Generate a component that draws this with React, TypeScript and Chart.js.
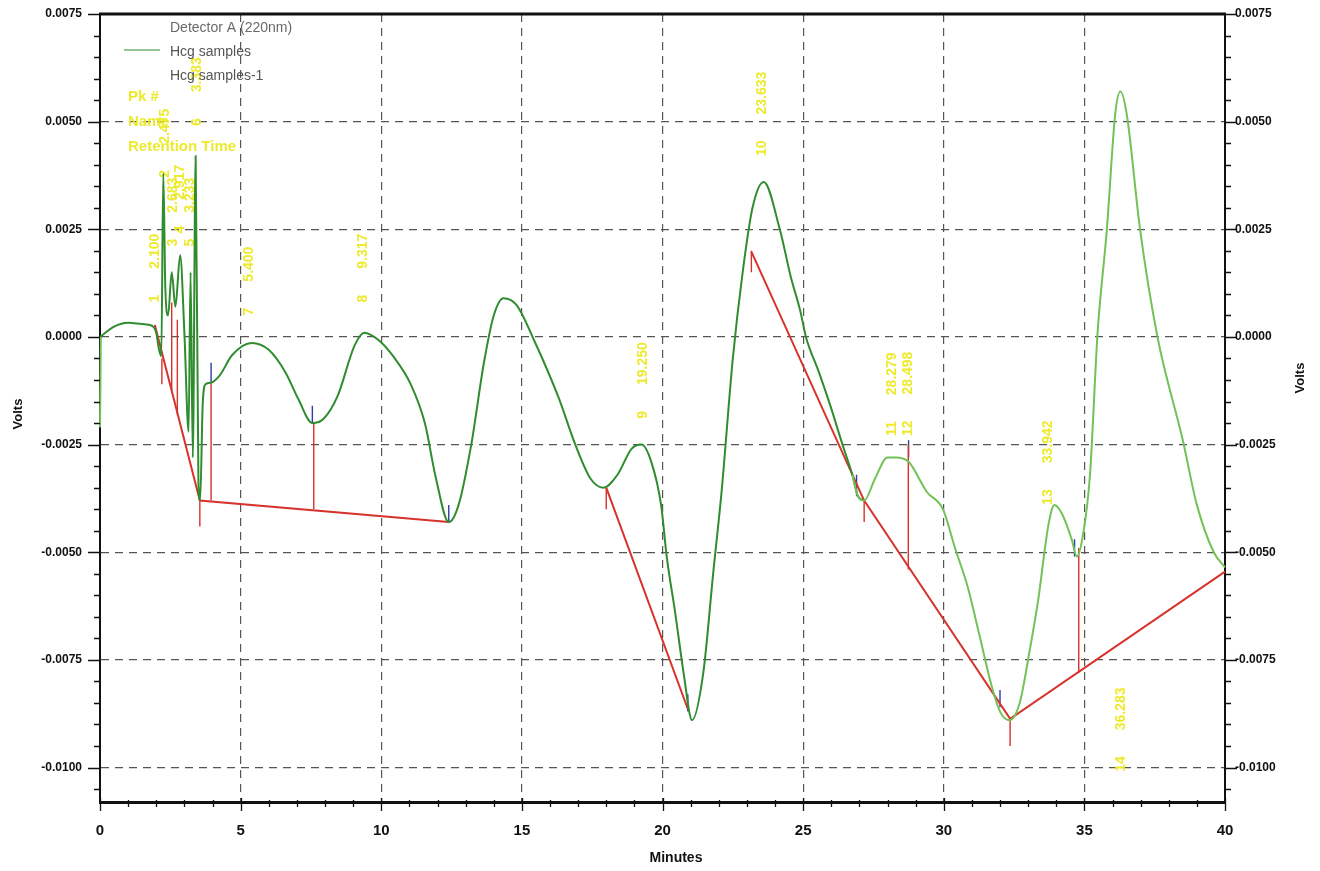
import React, { useEffect, useRef } from 'react';
import { Chart, registerables } from 'chart.js';

Chart.register(...registerables);

// ---------- axes ----------
const xTickValues = [0, 5, 10, 15, 20, 25, 30, 35, 40];
const xTickLabels = ['0', '5', '10', '15', '20', '25', '30', '35', '40'];
const yTickValues = [0.0075, 0.005, 0.0025, 0, -0.0025, -0.005, -0.0075, -0.01];
const yTickLabels = ['0.0075', '0.0050', '0.0025', '0.0000', '-0.0025', '-0.0050', '-0.0075', '-0.0100'];

// ---------- trace "Hcg samples" (dark green), minutes / volts ----------
const sampleTimes = [
  0.0, 0.5, 1.0, 1.5, 1.85, 2.0, 2.1, 2.18, 2.25, 2.32, 2.42, 2.55, 2.68, 2.85, 3.0, 3.15, 3.22, 3.3, 3.4, 3.5,
  3.56, 3.65, 3.75, 3.95, 4.25, 4.7, 5.4, 6.0, 6.6, 7.05, 7.55, 7.95, 8.45, 9.05, 9.4, 9.9, 10.45, 11.05, 11.55,
  11.95, 12.4, 12.75, 13.2, 13.65, 14.0, 14.35, 14.8, 15.45, 16.3, 16.9, 17.45, 17.9, 18.4, 18.9, 19.25, 19.6,
  19.95, 20.15, 20.45, 20.75, 21.05, 21.45, 21.8, 22.1, 22.5, 22.85, 23.2, 23.6, 24.17, 24.56, 24.9, 25.1, 25.55,
  25.97, 26.4, 26.75, 26.95, 27.17,
];
const sampleVolts = [
  0.0, 0.00024, 0.00033, 0.0003, 0.00026, 0.0001, -0.0003, -0.00045, 0.0038, 0.0012, 0.0005, 0.0015, 0.0007,
  0.0019, 0.0001, -0.0022, 0.0015, -0.0028, 0.0042, -0.0034, -0.0038, -0.0016, -0.0011, -0.00106, -0.0009,
  -0.00042, -0.00014, -0.0003, -0.00083, -0.00144, -0.002, -0.0019, -0.00137, -0.0002, 0.0001, -0.00007,
  -0.00047, -0.0011, -0.002, -0.0033, -0.0043, -0.0039, -0.0025, -0.0006, 0.0005, 0.0009, 0.00075, -0.0001,
  -0.0014, -0.0025, -0.0033, -0.0035, -0.0032, -0.0026, -0.0025, -0.0029, -0.0039, -0.0051, -0.0064, -0.0078,
  -0.0089, -0.0078, -0.0055, -0.0036, -0.0005, 0.0015, 0.003, 0.0036, 0.0025, 0.0014, 0.0006, 0.0, -0.0008,
  -0.0016, -0.0025, -0.0032, -0.0037, -0.0038,
];

// ---------- trace "Hcg samples-1" (light green) ----------
const sample1Times = [
  0.0, 0.03, 0.06, 26.75, 26.95, 27.17, 27.55, 28.0, 28.3, 28.75, 29.4, 29.97, 30.4, 30.85, 31.26, 31.7, 32.0,
  32.33, 32.7, 33.05, 33.36, 33.6, 33.74, 33.93, 34.2, 34.55, 34.73, 34.95, 35.2, 35.47, 35.8, 36.1, 36.28, 36.5,
  36.98, 37.6, 38.5, 39.0, 39.6, 40.0,
];
const sample1Volts = [
  -0.0021, 0.0, null, -0.0032, -0.0037, -0.0038, -0.0033, -0.0028, -0.0028, -0.0029, -0.0036, -0.004, -0.0049,
  -0.0058, -0.0069, -0.0081, -0.0087, -0.0089, -0.0085, -0.0073, -0.0061, -0.0049, -0.0043, -0.0039, -0.0041,
  -0.0047, -0.0051, -0.0046, -0.0032, 0.0001, 0.0025, 0.0052, 0.0057, 0.0052, 0.0025, 0.0, -0.0024, -0.0039,
  -0.005, -0.00535,
];

// ---------- integration baselines (red) ----------
const baselineTimes = [1.95, 3.55, 12.4, 13.0, 18.0, 20.9, 21.0, 23.16, 27.17, 32.36, 40.0];
const baselineVolts = [0.00028, -0.0038, -0.0043, null, -0.0035, -0.00864, null, 0.00198, -0.0038, -0.00887, -0.00545];

// red drop lines / event ticks
const dropTimes = [2.2, 2.55, 2.75, 3.55, 3.95, 7.6, 18.0, 23.16, 27.17, 28.74, 32.36, 34.8];
const dropTops = [-0.0005, 0.0008, 0.0004, -0.0038, -0.00106, -0.002, -0.0035, 0.002, -0.0038, -0.0025, -0.0089, -0.0049];
const dropBottoms = [-0.0011, -0.0013, -0.0018, -0.0044, -0.0038, -0.004, -0.004, 0.0015, -0.0043, -0.0054, -0.0095, -0.0078];

// blue peak markers
const markTimes = [3.95, 7.55, 12.4, 20.9, 26.9, 28.75, 32.0, 34.65];
const markTops = [-0.0006, -0.0016, -0.0039, -0.0083, -0.0032, -0.0024, -0.0082, -0.0047];
const markBottoms = [-0.00106, -0.002, -0.0043, -0.0087, -0.0037, -0.0028, -0.0086, -0.0051];

// ---------- yellow peak annotations ----------
const peakNumbers = ['1', '2', '3', '4', '5', '6', '7', '8', '9', '10', '11', '12', '13', '14'];
const peakRetention = ['2.100', '2.475', '2.683', '2.917', '3.233', '3.383', '5.400', '9.317', '19.250', '23.633', '28.279', '28.498', '33.942', '36.283'];
const peakLabelTimes = [1.95, 2.3, 2.6, 2.85, 3.2, 3.45, 5.3, 9.35, 19.3, 23.55, 28.15, 28.75, 33.7, 36.3];
const peakLabelVolts = [0.0008, 0.0037, 0.0021, 0.0024, 0.0021, 0.0049, 0.0005, 0.0008, -0.0019, 0.0042, -0.0023, -0.0023, -0.0039, -0.0101];

const legendTitle = 'Detector A (220nm)';
const legendSeries = ['Hcg samples', 'Hcg samples-1'];
const annotationKeys = ['Pk #', 'Name', 'Retention Time'];

const GREEN_DARK = '#2f8c2f';
const GREEN_LIGHT = '#72c257';
const RED = '#d8322c';
const BLUE = '#2a3da8';
const YELLOW = 'rgba(236,232,28,0.92)';
const GRID = '#555555';
const AXIS = '#111111';
const FONT = '"Liberation Sans", Arial, sans-serif';
const NARROW = '"Liberation Sans Narrow", "Liberation Sans", Arial, sans-serif';

function toPoints(ts: number[], vs: (number | null)[]) {
  return ts.map((t, i) => ({ x: t, y: vs[i] }));
}

function verticals(ts: number[], tops: number[], bottoms: number[]) {
  const out: { x: number; y: number | null }[] = [];
  ts.forEach((t, i) => {
    out.push({ x: t, y: tops[i] });
    out.push({ x: t, y: bottoms[i] });
    out.push({ x: t, y: null });
  });
  return out;
}

const decorPlugin = {
  id: 'decor',
  beforeDatasetsDraw(chart: any) {
    const { ctx, scales } = chart;
    const xs = scales.x;
    const ys = scales.y;
    ctx.save();
    ctx.fillStyle = YELLOW;
    ctx.font = `bold 14px ${FONT}`;
    ctx.textBaseline = 'middle';
    ctx.textAlign = 'left';
    peakNumbers.forEach((pk, i) => {
      const px = xs.getPixelForValue(peakLabelTimes[i]);
      const py = ys.getPixelForValue(peakLabelVolts[i]);
      ctx.save();
      ctx.translate(px, py);
      ctx.rotate(-Math.PI / 2);
      ctx.fillText(pk, 0, 0);
      const w = ctx.measureText(pk).width;
      ctx.fillText(peakRetention[i], w + 26, 0);
      ctx.restore();
    });
    // annotation key
    ctx.font = `bold 15px ${FONT}`;
    ctx.textBaseline = 'middle';
    annotationKeys.forEach((k, i) => {
      ctx.fillText(k, 128, 97 + i * 25);
    });
    ctx.restore();
  },
  afterDraw(chart: any) {
    const { ctx, chartArea: ca, scales } = chart;
    const xs = scales.x;
    const ys = scales.y;
    ctx.save();
    // top frame
    ctx.strokeStyle = AXIS;
    ctx.lineWidth = 3;
    ctx.beginPath();
    ctx.moveTo(ca.left - 1, ca.top);
    ctx.lineTo(ca.right + 1, ca.top);
    ctx.stroke();

    // tick marks
    ctx.lineWidth = 1.3;
    ctx.strokeStyle = AXIS;
    for (let k = -21; k <= 15; k++) {
      const v = k * 0.0005;
      const py = Math.round(ys.getPixelForValue(v)) + 0.5;
      const major = k % 5 === 0;
      const len = major ? 12 : 6;
      ctx.beginPath();
      ctx.moveTo(ca.left - len, py);
      ctx.lineTo(ca.left, py);
      ctx.moveTo(ca.right, py);
      ctx.lineTo(ca.right + len, py);
      ctx.stroke();
    }
    for (let m = 0; m <= 40; m++) {
      const px = Math.round(xs.getPixelForValue(m)) + 0.5;
      const major = m % 5 === 0;
      ctx.beginPath();
      ctx.moveTo(px, ca.bottom - (major ? 4 : 2));
      ctx.lineTo(px, ca.bottom + (major ? 9 : 5));
      ctx.stroke();
    }

    // axis titles
    ctx.fillStyle = AXIS;
    ctx.font = `bold 13px ${FONT}`;
    ctx.textAlign = 'center';
    ctx.textBaseline = 'middle';
    const midY = (ca.top + ca.bottom) / 2;
    [18, 1300].forEach((tx) => {
      ctx.save();
      ctx.translate(tx, tx < 100 ? midY + 6 : midY - 30);
      ctx.rotate(-Math.PI / 2);
      ctx.fillText('Volts', 0, 0);
      ctx.restore();
    });
    ctx.font = `bold 14px ${NARROW}`;
    ctx.fillText('Minutes', 676, 858);

    // legend
    ctx.fillStyle = '#6a6a6a';
    ctx.font = `14px ${FONT}`;
    ctx.textAlign = 'left';
    ctx.fillText(legendTitle, 170, 28);
    ctx.fillStyle = '#555555';
    legendSeries.forEach((s, i) => {
      ctx.fillText(s, 170, 52 + i * 24);
    });
    ctx.strokeStyle = GREEN_DARK;
    ctx.lineWidth = 1.2;
    ctx.beginPath();
    ctx.moveTo(124, 50);
    ctx.lineTo(160, 50);
    ctx.stroke();
    ctx.restore();
  },
};

export default function App() {
  const canvasRef = useRef<HTMLCanvasElement | null>(null);

  useEffect(() => {
    if (!canvasRef.current) return;
    const gridDash = [8, 6];
    const fitVertical = (width: number) => (s: any) => {
      s.width = width;
      s.paddingTop = 0;
      s.paddingBottom = 0;
    };
    const chart = new Chart(canvasRef.current, {
      type: 'line',
      data: {
        datasets: [
          {
            label: legendSeries[1],
            data: toPoints(sample1Times, sample1Volts),
            borderColor: GREEN_LIGHT,
            borderWidth: 2,
            pointRadius: 0,
            cubicInterpolationMode: 'monotone',
            spanGaps: false,
            clip: false,
          },
          {
            label: legendSeries[0],
            data: toPoints(sampleTimes, sampleVolts),
            borderColor: GREEN_DARK,
            borderWidth: 2,
            pointRadius: 0,
            cubicInterpolationMode: 'monotone',
            clip: false,
          },
          {
            label: 'baseline',
            data: toPoints(baselineTimes, baselineVolts),
            borderColor: RED,
            borderWidth: 2,
            pointRadius: 0,
            tension: 0,
            spanGaps: false,
            clip: false,
          },
          {
            label: 'drops',
            data: verticals(dropTimes, dropTops, dropBottoms),
            borderColor: RED,
            borderWidth: 1.4,
            pointRadius: 0,
            tension: 0,
            spanGaps: false,
            clip: false,
          },
          {
            label: 'marks',
            data: verticals(markTimes, markTops, markBottoms),
            borderColor: BLUE,
            borderWidth: 1.4,
            pointRadius: 0,
            tension: 0,
            spanGaps: false,
            clip: false,
          },
        ],
      },
      options: {
        animation: false,
        responsive: true,
        maintainAspectRatio: false,
        parsing: true,
        layout: { padding: { top: 14, left: 0, right: 0, bottom: 0 } },
        plugins: {
          legend: { display: false },
          tooltip: { enabled: false },
          title: { display: false },
        },
        scales: {
          x: {
            type: 'linear',
            min: 0,
            max: 40,
            afterBuildTicks: (s: any) => {
              s.ticks = xTickValues.map((v) => ({ value: v }));
            },
            afterFit: (s: any) => {
              s.height = 69;
            },
            ticks: {
              autoSkip: false,
              maxRotation: 0,
              padding: 20,
              color: AXIS,
              font: { family: NARROW, size: 15, weight: 'bold' },
              callback: (_v: any, i: number) => xTickLabels[i],
            },
            grid: { color: GRID, lineWidth: 1.2, drawTicks: false },
            border: { color: AXIS, width: 3, dash: gridDash },
          },
          y: {
            type: 'linear',
            position: 'left',
            min: -0.0108,
            max: 0.0075,
            afterBuildTicks: (s: any) => {
              s.ticks = yTickValues.map((v) => ({ value: v }));
            },
            afterFit: fitVertical(100),
            ticks: {
              autoSkip: false,
              padding: 18,
              color: AXIS,
              font: { family: FONT, size: 12, weight: 'bold' },
              callback: (_v: any, i: number) => yTickLabels[i],
            },
            grid: { color: GRID, lineWidth: 1.2, drawTicks: false },
            border: { color: AXIS, width: 2, dash: gridDash },
          },
          y2: {
            type: 'linear',
            position: 'right',
            min: -0.0108,
            max: 0.0075,
            afterBuildTicks: (s: any) => {
              s.ticks = yTickValues.map((v) => ({ value: v }));
            },
            afterFit: fitVertical(95),
            ticks: {
              autoSkip: false,
              padding: 10,
              color: AXIS,
              font: { family: FONT, size: 12, weight: 'bold' },
              callback: (_v: any, i: number) => yTickLabels[i],
            },
            grid: { drawOnChartArea: false, drawTicks: false },
            border: { color: AXIS, width: 2 },
          },
        },
      } as any,
      plugins: [decorPlugin],
    });
    return () => chart.destroy();
  }, []);

  return (
    <div style={{ position: 'fixed', left: 0, top: 0, width: 1320, height: 871, background: '#ffffff' }}>
      <canvas ref={canvasRef} />
    </div>
  );
}
